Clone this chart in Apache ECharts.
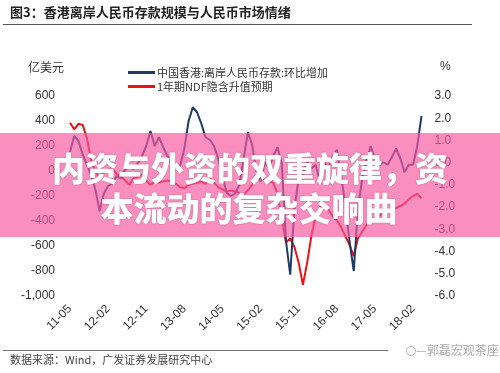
<!DOCTYPE html>
<html><head><meta charset="utf-8">
<script src="https://cdn.jsdelivr.net/npm/echarts@6/dist/echarts.min.js"></script>
<style>html,body{margin:0;padding:0;background:#fff;}#c{width:500px;height:373px;}</style>
</head><body><div id="c"></div>
<script>
const categories = [
 "11-05","11-06","11-07","11-08","11-09","11-10","11-11","11-12",
 "12-01","12-02","12-03","12-04","12-05","12-06","12-07","12-08","12-09","12-10","12-11","12-12",
 "13-01","13-02","13-03","13-04","13-05","13-06","13-07","13-08","13-09","13-10","13-11","13-12",
 "14-01","14-02","14-03","14-04","14-05","14-06","14-07","14-08","14-09","14-10","14-11","14-12",
 "15-01","15-02","15-03","15-04","15-05","15-06","15-07","15-08","15-09","15-10","15-11","15-12",
 "16-01","16-02","16-03","16-04","16-05","16-06","16-07","16-08","16-09","16-10","16-11","16-12",
 "17-01","17-02","17-03","17-04","17-05","17-06","17-07","17-08","17-09","17-10","17-11","17-12",
 "18-01","18-02","18-03","18-04"];
const depositChange = [150,280,240,130,50,-30,-150,-320,-180,-120,-100,-40,-60,10,30,20,60,120,200,320,200,270,190,120,50,30,40,180,400,510,470,380,270,250,200,100,-40,-176,-200,-180,-110,100,310,
 210,0,-86,70,20,120,190,60,-560,-830,-300,-60,-20,74,20,50,-80,70,20,120,170,-30,-270,-560,-800,-300,-60,80,200,100,40,70,50,110,180,100,-10,50,50,200,440];
const ndfExpect = [1.8,1.5,1.75,1.7,1.1,0.1,-0.4,-0.7,-0.4,-0.3,-0.25,-0.5,-0.6,-0.8,-1.0,-0.7,-0.65,-0.55,-0.8,-1.0,-0.85,-0.9,-0.85,-0.8,-0.85,-0.95,-1.1,-1.15,-1.0,-0.95,-0.9,-0.85,-0.95,-0.7,-0.9,-1.1,-1.2,-1.3,-1.25,-1.3,-1.35,-1.45,-1.25,-1.0,-0.7,-0.6,-0.8,-0.85,-0.9,-1.4,-2.5,-3.6,-3.4,-3.8,-4.5,-5.5,-4.5,-3.3,-2.4,-2.0,-1.9,-2.1,-2.4,-2.6,-2.9,-3.3,-3.7,-4.2,-3.4,-3.1,-2.8,-2.6,-2.5,-2.4,-2.25,-2.2,-2.1,-2.05,-1.95,-1.85,-1.65,-1.5,-1.4,-1.6];
const seriesNames = ["中国香港:离岸人民币存款:环比增加","1年期NDF隐含升值预期"];
const titleText = "图3：香港离岸人民币存款规模与人民币市场情绪";
const sourceText = "数据来源：Wind，广发证券发展研究中心";
const watermarkText = "—郭磊宏观茶座";
const bannerLines = ["内资与外资的双重旋律，资","本流动的复杂交响曲"];

const chart = echarts.init(document.getElementById('c'), null, {renderer:'canvas'});
const fam = '"Liberation Sans", Arial, sans-serif';
const cjk = '"Noto Sans CJK SC", sans-serif';
function comma(v){const s=String(Math.abs(v)).replace(/\B(?=(\d{3})+(?!\d))/g, ','); return (v<0?'-':'')+s;}
chart.setOption({
  animation:false,
  backgroundColor:'#fff',
  grid:{left:70, right:78.5, top:96, height:200, containLabel:false},
  legend:{
    orient:'vertical', left:123, top:61, itemWidth:27, itemHeight:3, itemGap:1,
    icon:'rect', data:seriesNames,
    textStyle:{fontFamily:cjk, fontSize:11, color:'#333', lineHeight:13, padding:[0,0,0,-3]}
  },
  xAxis:{
    type:'category', data:categories, boundaryGap:false,
    axisLine:{show:false}, axisTick:{show:false},
    axisLabel:{interval:8, rotate:45, margin:11, fontFamily:fam, fontSize:12, color:'#333'}
  },
  yAxis:[
    {type:'value', min:-1000, max:600, interval:200, splitLine:{show:false},
     axisLine:{show:false}, axisTick:{show:false},
     axisLabel:{margin:15, fontFamily:fam, fontSize:12, color:'#333', formatter:comma}},
    {type:'value', min:-6, max:3, interval:1, splitLine:{show:false},
     axisLine:{show:false}, axisTick:{show:false},
     axisLabel:{margin:13, fontFamily:fam, fontSize:12, color:'#333', formatter:v=>v.toFixed(1)}}
  ],
  series:[
    {name:seriesNames[0], type:'line', yAxisIndex:0, data:depositChange, symbol:'none',
     lineStyle:{color:'#1f3a68', width:2}, itemStyle:{color:'#1f3a68'}, z:3},
    {name:seriesNames[1], type:'line', yAxisIndex:1, data:ndfExpect, symbol:'none',
     lineStyle:{color:'#ee1111', width:2}, itemStyle:{color:'#ee1111'}, z:2}
  ],
  graphic:[
    {type:'text', left:10, top:6, style:{text:titleText, font:'bold 13px '+cjk, fill:'#222'}},
    {type:'line', shape:{x1:3,y1:24.5,x2:472,y2:24.5}, style:{stroke:'#555', lineWidth:1}},
    {type:'text', left:28, top:61, style:{text:'亿美元', font:'12px '+cjk, fill:'#333'}},
    {type:'text', left:440, top:61, style:{text:'%', font:'12px '+fam, fill:'#333'}},
    {type:'line', shape:{x1:3,y1:350.5,x2:388,y2:350.5}, style:{stroke:'#777', lineWidth:1}},
    {type:'text', left:10, top:354, style:{text:sourceText, font:'11px '+cjk, fill:'#444'}},
    {type:'circle', shape:{cx:411,cy:351,r:4.5}, style:{fill:'none', stroke:'#bbb', lineWidth:1}},
    {type:'text', left:416, top:344, style:{text:watermarkText, font:'12px '+cjk, fill:'#aaa'}},
    {type:'rect', z:100, shape:{x:0,y:133,width:500,height:104}, style:{fill:'rgba(248,90,160,0.68)'}},
    {type:'text', z:101, x:250, y:168, style:{text:bannerLines[0], font:'900 33px '+cjk, fill:'#fff', align:'center', verticalAlign:'middle', textShadowColor:'rgba(0,0,0,0.25)', textShadowBlur:2}},
    {type:'text', z:101, x:249, y:208, style:{text:bannerLines[1], font:'900 33px '+cjk, fill:'#fff', align:'center', verticalAlign:'middle', textShadowColor:'rgba(0,0,0,0.25)', textShadowBlur:2}}
  ]
});
</script></body></html>
